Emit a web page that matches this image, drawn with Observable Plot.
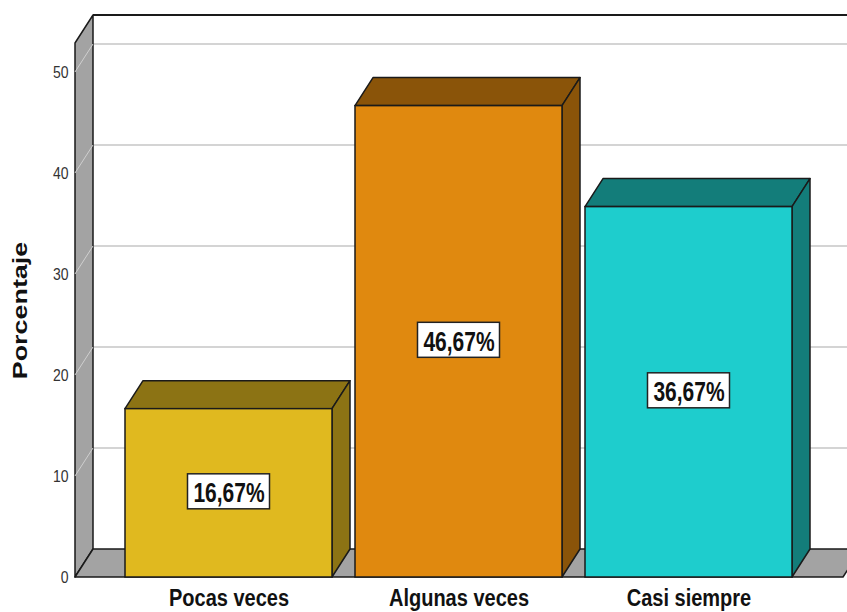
<!DOCTYPE html>
<html><head><meta charset="utf-8">
<script src="https://cdn.jsdelivr.net/npm/d3@7"></script>
<script src="https://cdn.jsdelivr.net/npm/@observablehq/plot@0.6"></script>
<style>
body{margin:0;background:#fff;}
svg{display:block;font-family:"Liberation Sans",Arial,sans-serif;}
</style>
</head><body><div id="chart"></div>
<script>
// ---- data ----
const categories = ["Pocas veces", "Algunas veces", "Casi siempre"];
const values = [16.67, 46.67, 36.67];
const valueLabels = ["16,67%", "46,67%", "36,67%"];
const frontColors = ["#e0b91f", "#e0890f", "#1ecdcd"];
const sideColors = ["#8c7314", "#8a5409", "#137d7a"];
const yTicks = [0, 10, 20, 30, 40, 50];
const yMax = 52.87;
const yTitle = "Porcentaje";

const data = categories.map((c, i) => ({cat: c, value: values[i], label: valueLabels[i], front: frontColors[i], side: sideColors[i]}));

// ---- 3D style ----
const DX = 18, DY = -28;
const OUT = "#1a1a1a";

function pts(a) { return a.map(p => p.join(",")).join(" "); }

function walls(index, scales, vals, dim) {
  const y = scales.y;
  const x0 = dim.marginLeft, x1 = dim.width - dim.marginRight;
  const yb = y(0), yt = y(yMax);
  const bx0 = x0 + DX;
  const g = d3.create("svg:g");
  yTicks.slice(1).forEach(v => {
    g.append("line").attr("x1", bx0).attr("x2", dim.width + DX).attr("y1", y(v) + DY).attr("y2", y(v) + DY)
      .attr("stroke", "#d4d4d4").attr("stroke-width", 2);
  });
  g.append("polygon").attr("points", pts([[x0, yb], [x0, yt], [bx0, yt + DY], [bx0, yb + DY]]))
    .attr("fill", "#a3a3a3").attr("stroke", OUT).attr("stroke-width", 1.5).attr("stroke-linejoin", "round");
  yTicks.slice(1).forEach(v => {
    g.append("line").attr("x1", x0).attr("x2", bx0).attr("y1", y(v)).attr("y2", y(v) + DY)
      .attr("stroke", "#cfcfcf").attr("stroke-width", 1);
  });
  g.append("polygon").attr("points", pts([[x0, yb], [x1, yb], [x1 + DX, yb + DY], [bx0, yb + DY]]))
    .attr("fill", "#a3a3a3").attr("stroke", OUT).attr("stroke-width", 1.5).attr("stroke-linejoin", "round");
  g.append("line").attr("x1", bx0).attr("x2", dim.width + DX).attr("y1", yt + DY).attr("y2", yt + DY)
    .attr("stroke", OUT).attr("stroke-width", 2);
  return g.node();
}

function depthFaces(index, scales, vals, dim) {
  const {x, y} = scales;
  const bw = x.bandwidth();
  const g = d3.create("svg:g");
  data.forEach(d => {
    const xl = x(d.cat), xr = xl + bw, yt = y(d.value), yb = y(0);
    g.append("polygon").attr("points", pts([[xl, yt], [xr, yt], [xr + DX, yt + DY], [xl + DX, yt + DY]]))
      .attr("fill", d.side).attr("stroke", OUT).attr("stroke-width", 1.5).attr("stroke-linejoin", "round");
    g.append("polygon").attr("points", pts([[xr, yt], [xr, yb], [xr + DX, yb + DY], [xr + DX, yt + DY]]))
      .attr("fill", d.side).attr("stroke", OUT).attr("stroke-width", 1.5).attr("stroke-linejoin", "round");
  });
  return g.node();
}

function labelBoxes(index, scales, vals, dim) {
  const {x, y} = scales;
  const bw = x.bandwidth();
  const g = d3.create("svg:g");
  data.forEach(d => {
    const cx = x(d.cat) + bw / 2, cy = y(d.value / 2) - 1.5;
    g.append("rect").attr("x", cx - 41).attr("y", cy - 17.5).attr("width", 82).attr("height", 35)
      .attr("fill", "#fff").attr("stroke", "#222").attr("stroke-width", 1.5);
  });
  return g.node();
}

const plot = Plot.plot({
  width: 847, height: 612,
  marginLeft: 75, marginRight: 4, marginTop: 43, marginBottom: 35,
  x: {domain: categories, range: [113.5, 803.5], paddingInner: 0.1, paddingOuter: 0.05, round: false},
  y: {domain: [0, yMax]},
  color: {type: "identity"},
  marks: [
    walls,
    depthFaces,
    Plot.barY(data, {x: "cat", y: "value", fill: "front", stroke: OUT, strokeWidth: 1.5, insetLeft: 0, insetRight: 0}),
    labelBoxes,
    Plot.text(data, {x: "cat", y: d => d.value / 2, text: "label", fontSize: 21, fontWeight: "bold", fill: "#111"}),
    Plot.axisY(yTicks, {tickSize: 0, tickPadding: 7, fontSize: 14, color: "#333", label: null}),
    Plot.axisX({tickSize: 0, tickPadding: 11, fontSize: 20, fontWeight: "bold", color: "#111", label: null}),
    Plot.text([yTitle], {frameAnchor: "left", textAnchor: "middle", dx: -55, rotate: -90, fontSize: 19.5, fontWeight: "bold", fill: "#111"})
  ]
});

// vertical stretch of the text, as in the reference
d3.select(plot).selectAll("text").each(function () {
  const s = this.textContent;
  const t = this.getAttribute("transform") || "";
  let add = "";
  if (categories.includes(s)) add = " scale(1,1.22)";
  else if (valueLabels.includes(s)) add = " scale(1,1.33)";
  else if (s === yTitle) add = " scale(1.38,1)";
  else if (yTicks.map(String).includes(s)) add = " scale(1,1.2)";
  if (add) this.setAttribute("transform", t + add);
});

document.getElementById("chart").append(plot);
</script>
</body></html>
